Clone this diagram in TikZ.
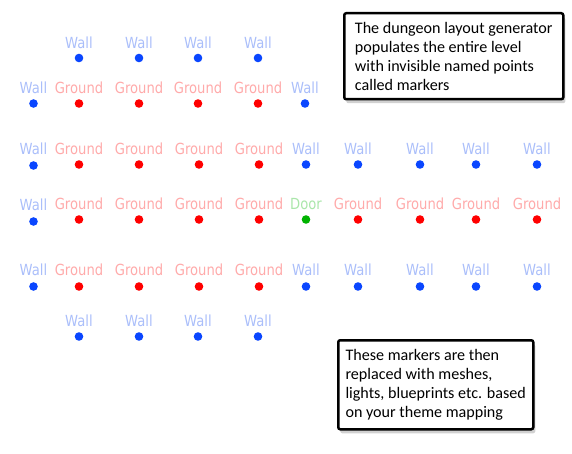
\documentclass[tikz,border=0pt]{standalone}
\usepackage{fontspec}
\setmainfont{Carlito}
\newfontfamily\labfont[FakeStretch=0.86]{DejaVu Sans}
\usetikzlibrary{shadows}
\definecolor{wallDot}{RGB}{10,70,255}
\definecolor{wallTxt}{RGB}{170,190,250}
\definecolor{gndDot}{RGB}{255,0,0}
\definecolor{gndTxt}{RGB}{255,170,170}
\definecolor{doorDot}{RGB}{0,178,0}
\definecolor{doorTxt}{RGB}{170,230,170}
\tikzset{
  dot/.style={circle, inner sep=0pt, minimum size=8.6pt},
  walldot/.style={dot, fill=wallDot},
  gnddot/.style={dot, fill=gndDot},
  doordot/.style={dot, fill=doorDot},
  lab/.style={anchor=base, inner sep=0pt, font=\labfont\fontsize{15.3}{18}\selectfont},
  note/.style={draw=black, line width=2.5pt, rounded corners=2pt, fill=white,
    align=left, inner sep=0pt, anchor=north west,
    font=\fontsize{16.1}{19}\selectfont,
    drop shadow={shadow xshift=2pt, shadow yshift=-4pt, fill=black!40, opacity=.45}}
}
\begin{document}
\begin{tikzpicture}[x=1pt,y=-1pt]
\path[use as bounding box] (0,0) rectangle (572,454);
% walls
\foreach \x/\y/\b [count=\i] in {
  79/58/48.5, 139/58/48.5, 198/58/48.5, 258/58/48.5,
  33.5/103.5/94, 305/103.5/94,
  33.5/165.5/155, 306/164.5/155, 358/164.5/155, 420/164.5/155, 476/164.5/155, 537/164.5/155,
  33.5/221.5/210.5,
  33.5/286.5/275.5, 306/286.5/275.5, 358/286.5/275.5, 420/286.5/275.5, 476/286.5/275.5, 537/286.5/275.5,
  79/336.5/326, 139/336.5/326, 198/336.5/326, 258/336.5/326}{
  \node[walldot] (w\i) at (\x,\y) {};
  \node[lab, text=wallTxt] (wl\i) at (\x,\b) {Wall};
}
% grounds
\foreach \x/\y/\b [count=\i] in {
  79/103.5/94, 139/103.5/94, 198/103.5/94, 258/103.5/94,
  79/164.5/155, 139/164.5/155, 199/164.5/155, 259/164.5/155,
  79/219.5/209.5, 139/219.5/209.5, 199/219.5/209.5, 259/219.5/209.5,
  358/219.5/209.5, 420/219.5/209.5, 476/219.5/209.5, 537/219.5/209.5,
  79/286.5/275.5, 139/286.5/275.5, 199/286.5/275.5, 259/286.5/275.5}{
  \node[gnddot] (g\i) at (\x,\y) {};
  \node[lab, text=gndTxt] (gl\i) at (\x,\b) {Ground};
}
% door
\node[doordot] (d1) at (306,219.5) {};
\node[lab, text=doorTxt] (dl1) at (306,209.5) {Door};
% notes
\node[note, minimum width=219pt, minimum height=86pt] (n1) at (343,12)
  {The dungeon layout generator\\populates the entire level\\with invisible named points\\called markers};
\node[note, minimum width=195pt, minimum height=89pt] (n2) at (337,339)
  {These markers are then\\replaced with meshes,\\lights, blueprints etc. based\\on your theme mapping};
\end{tikzpicture}
\end{document}
